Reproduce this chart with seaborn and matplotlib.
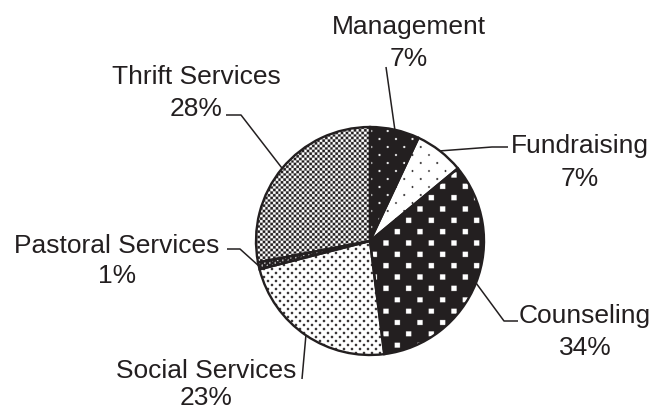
import numpy as np
import matplotlib
matplotlib.use("Agg")
import matplotlib.pyplot as plt
import seaborn as sns

# ---- data ----
categories = ["Management", "Fundraising", "Counseling", "Social Services",
              "Pastoral Services", "Thrift Services"]
shares = [7, 7, 34, 23, 1, 28]
pct_labels = [f"{v}%" for v in shares]

sns.set_theme(style="white")
plt.rcParams['font.family'] = ['Liberation Sans', 'DejaVu Sans']

W, H = 654, 410
INK = '#231f20'
CX, CY, R = 370, 242, 114

fig = plt.figure(figsize=(W / 100, H / 100), dpi=100)
fig.patch.set_facecolor('white')
ax = fig.add_axes([0, 0, 1, 1])

wedges, _ = ax.pie(shares, startangle=-90, counterclock=True, center=(CX, CY),
                   radius=R,
                   wedgeprops=dict(facecolor='none', edgecolor=INK,
                                   linewidth=1.7, zorder=3))
ax.set_xlim(0, W)
ax.set_ylim(H, 0)
ax.set_aspect('auto')
ax.axis('off')

# ---- textures (pixel space) ----
SS = 3
ys, xs = np.mgrid[0:H * SS, 0:W * SS]
px = (xs + 0.5) / SS
py = (ys + 0.5) / SS


def stagger(dx, dy, size, square=False):
    row = np.floor(py / dy)
    off = (row % 2) * dx / 2
    lx = np.mod(px - off, dx) - dx / 2
    ly = py - (row + 0.5) * dy
    if square:
        return (np.abs(lx) < size / 2) & (np.abs(ly) < size / 2)
    return lx ** 2 + ly ** 2 < (size / 2) ** 2


def checker(c):
    return ((np.floor(px / c) + np.floor(py / c)) % 2) == 0


textures = [
    ~stagger(16.5, 8, 2.2),               # Management
    stagger(16.5, 8, 1.9),                # Fundraising
    ~stagger(22.7, 11.35, 5.2, True),     # Counseling
    stagger(8.0, 4.0, 2.4),               # Social Services
    ~(checker(2.6) & stagger(5.2, 2.6, 2.2)),  # Pastoral
    checker(2.6),                          # Thrift
]

ink_rgb = np.array([0x23, 0x1f, 0x20]) / 255.0
for wedge, dark in zip(wedges, textures):
    img = np.ones(dark.shape + (3,))
    img[dark] = ink_rgb
    im = ax.imshow(img, extent=(0, W, H, 0), origin='upper',
                   interpolation='antialiased', zorder=2)
    im.set_clip_path(wedge)

ax.set_xlim(0, W)
ax.set_ylim(H, 0)

# ---- labels & leaders (layout) ----
label_pos = [(409, 34, 66), (580, 153, 186), (585, 323, 355),
             (206, 378, 405), (117, 253, 283), (196, 84, 116)]
leader_tail = [[(386, 68)],
               [(492, 148), (508, 148)],
               [(504, 322), (518, 322)],
               [(302, 380)],
               [(240, 250), (227, 250)],
               [(241, 116), (226, 116)]]

FS = 19
for wedge, name, pct, (lx, y1, y2), tail in zip(wedges, categories, pct_labels,
                                                 label_pos, leader_tail):
    ax.text(lx, y1, name, ha='center', va='baseline', fontsize=FS, color=INK)
    ax.text(lx, y2, pct, ha='center', va='baseline', fontsize=FS, color=INK)
    mid = np.deg2rad((wedge.theta1 + wedge.theta2) / 2)
    pts = [(CX + R * np.cos(mid), CY + R * np.sin(mid))] + tail
    xs_l, ys_l = zip(*pts)
    ax.plot(xs_l, ys_l, color=INK, lw=1.1, solid_capstyle='butt', zorder=4)

fig.savefig("out.png", dpi=100, facecolor='white')
